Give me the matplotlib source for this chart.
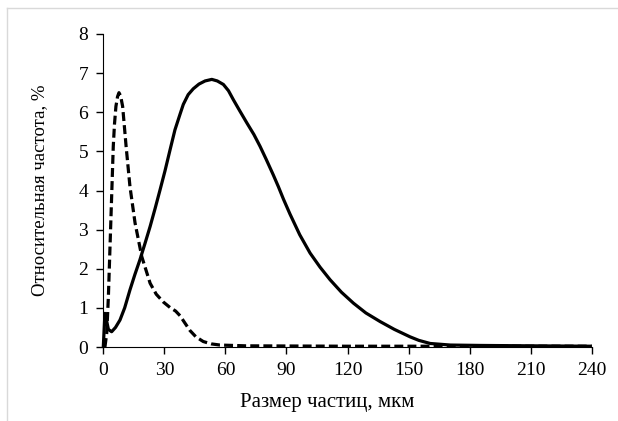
import matplotlib

matplotlib.use("Agg")
import matplotlib.pyplot as plt
from matplotlib.lines import Line2D

# particle size, um / relative frequency, %
size_solid = [0, 0.8, 1.5, 2.5, 4.1, 6, 8.2, 10.5, 13.1, 15.5, 18, 20.5, 23,
              25.5, 27.9, 30.3, 32.8, 35.2, 37.7, 39.3, 41.7, 44.2, 47, 50,
              53.3, 56, 59, 61.5, 63.9, 67, 70.5, 74, 77, 80, 83.5, 86, 88.5,
              91.7, 96.5, 101.6, 106.5, 111.4, 117, 122.9, 129, 136, 143,
              150.7, 155, 160.6, 170.5, 185, 210, 240]
freq_solid = [0.0, 0.86, 0.7, 0.45, 0.39, 0.5, 0.69, 1.0, 1.46, 1.85, 2.23,
              2.65, 3.08, 3.55, 4.02, 4.5, 5.04, 5.55, 5.95, 6.2, 6.45, 6.6,
              6.72, 6.8, 6.84, 6.8, 6.71, 6.55, 6.32, 6.04, 5.73, 5.43, 5.13,
              4.8, 4.4, 4.1, 3.78, 3.4, 2.87, 2.4, 2.04, 1.72, 1.4, 1.12, 0.87,
              0.65, 0.45, 0.26, 0.17, 0.09, 0.05, 0.04, 0.03, 0.02]

size_dash = [0.8, 1.7, 2.5, 3.3, 4.1, 4.9, 5.5, 6.2, 7.0, 7.7, 8.5, 9.5,
             11.2, 13.1, 15.6, 18.9, 23, 26, 29.5, 33, 35.5, 37.7, 40, 42.6,
             45.5, 49.1, 53, 57.3, 70, 120, 180, 240]
freq_dash = [0.0, 0.36, 1.29, 2.57, 3.85, 5.13, 5.7, 6.15, 6.4, 6.5, 6.42,
             6.15, 5.13, 4.1, 3.17, 2.31, 1.63, 1.35, 1.15, 1.0, 0.92, 0.8,
             0.62, 0.42, 0.26, 0.14, 0.08, 0.05, 0.03, 0.02, 0.02, 0.02]

x_ticks = [0, 30, 60, 90, 120, 150, 180, 210, 240]
y_ticks = [0, 1, 2, 3, 4, 5, 6, 7, 8]

plt.rcParams["font.family"] = ["Liberation Serif", "DejaVu Serif"]

fig = plt.figure(figsize=(6.18, 4.21), dpi=100)
ax = fig.add_axes([103.3 / 618, 1 - 347 / 421, 488.5 / 618, 313 / 421])

ax.plot(size_solid, freq_solid, color="black", linewidth=2.3,
        solid_joinstyle="round", solid_capstyle="butt", clip_on=False)
ax.plot(size_dash, freq_dash, color="black", linewidth=2.3,
        linestyle=(0, (2.8, 1.3)), clip_on=False)

ax.set_xlim(0, 240)
ax.set_ylim(0, 8)
ax.set_xticks(x_ticks)
ax.set_yticks(y_ticks)
ax.spines["top"].set_visible(False)
ax.spines["right"].set_visible(False)
ax.tick_params(direction="out", length=5, width=1, labelsize=14, pad=6)
ax.set_xlabel("Размер частиц, мкм", fontsize=15)
ax.set_ylabel("Относительная частота, %", fontsize=13.5)
ax.xaxis.set_label_coords(0.459, -0.147)
ax.yaxis.set_label_coords(-0.112, 0.5)

# light chart-area border (top and left only)
fig.add_artist(Line2D([7 / 618, 1], [1 - 8 / 421, 1 - 8 / 421],
                      transform=fig.transFigure, color="#d9d9d9", linewidth=1))
fig.add_artist(Line2D([7 / 618, 7 / 618], [0, 1 - 8 / 421],
                      transform=fig.transFigure, color="#d9d9d9", linewidth=1))

fig.savefig("out.png", dpi=100)
